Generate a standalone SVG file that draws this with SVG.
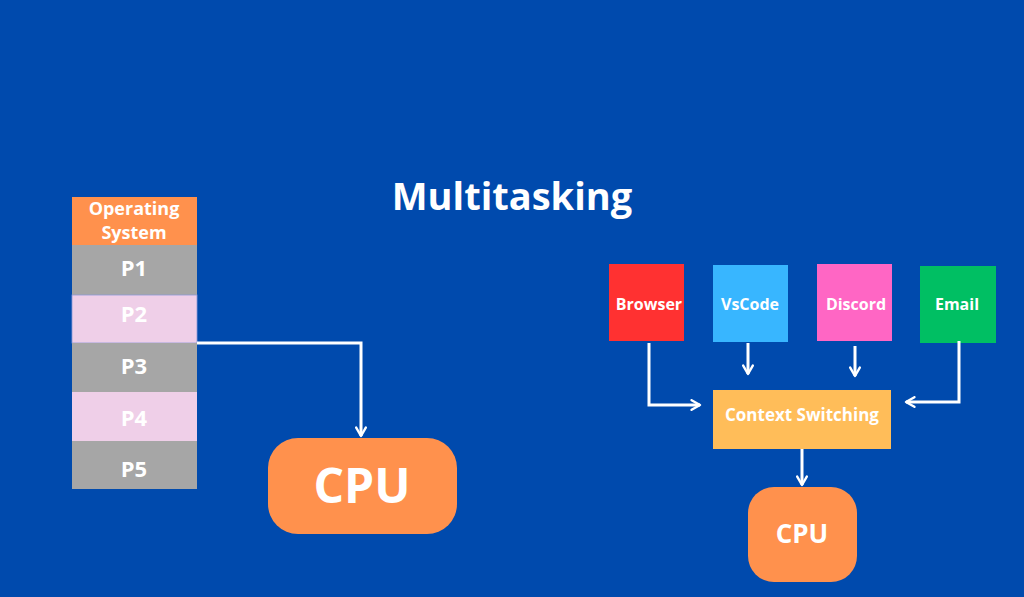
<svg xmlns="http://www.w3.org/2000/svg" width="1024" height="597" viewBox="0 0 1024 597">
<defs>
<marker id="ah" viewBox="0 0 10 10" refX="8" refY="5" markerWidth="4" markerHeight="4" markerUnits="strokeWidth" orient="auto">
<path d="M1,1 L8,5 L1,9" fill="none" stroke="#ffffff" stroke-width="2" stroke-linecap="round" stroke-linejoin="round"/>
</marker>
</defs>
<style>
text { font-family: "Open Sans", "Liberation Sans", sans-serif; font-weight: bold; fill: #ffffff; text-anchor: middle; }
.conn { fill: none; stroke: #ffffff; stroke-width: 3; marker-end: url(#ah); }
.gray { fill: #a6a6a6; }
.pink { fill: #efcfe8; }
</style>
<rect width="1024" height="597" fill="#004aad"/>
<text x="512" y="210" font-size="38">Multitasking</text>
<g id="os"><rect x="72" y="197" width="125" height="48" fill="#ff914d"/><text x="134" y="215" font-size="18">Operating</text><text x="134" y="239" font-size="18">System</text></g>
<g id="p1"><rect class="gray" x="72" y="245" width="125" height="50"/><text x="134" y="276" font-size="22">P1</text></g>
<g id="p2"><rect class="pink" x="72" y="295" width="125" height="48" stroke="#8c9ad8" stroke-width="0.8"/><text x="134" y="322" font-size="22">P2</text></g>
<g id="p3"><rect class="gray" x="72" y="343" width="125" height="49"/><text x="134" y="374" font-size="22">P3</text></g>
<g id="p4"><rect class="pink" x="72" y="392" width="125" height="49"/><text x="134" y="426" font-size="22">P4</text></g>
<g id="p5"><rect class="gray" x="72" y="441" width="125" height="48"/><text x="134" y="477" font-size="22">P5</text></g>
<g id="cpu1"><rect x="268" y="438" width="189" height="96" rx="30" fill="#ff914d"/><text x="362" y="503" font-size="48">CPU</text></g>
<g id="browser"><rect x="609" y="264" width="75" height="77" fill="#ff3131"/><text x="649" y="310" font-size="16">Browser</text></g>
<g id="vscode"><rect x="713" y="265" width="75" height="77" fill="#38b6ff"/><text x="750" y="310" font-size="16">VsCode</text></g>
<g id="discord"><rect x="817" y="264" width="75" height="77" fill="#ff66c4"/><text x="856" y="310" font-size="16">Discord</text></g>
<g id="email"><rect x="920" y="266" width="76" height="77" fill="#00bf63"/><text x="957" y="310" font-size="16">Email</text></g>
<g id="ctx"><rect x="713" y="390" width="178" height="59" fill="#ffbd59"/><text x="802" y="421" font-size="17">Context Switching</text></g>
<g id="cpu2"><rect x="748" y="487" width="109" height="95" rx="26" fill="#ff914d"/><text x="802" y="543" font-size="26">CPU</text></g>
<g id="connectors">
<path class="conn" d="M197,343 H361 V436"/>
<path class="conn" d="M649,343 V405 H700"/>
<path class="conn" d="M748,343 V374"/>
<path class="conn" d="M855,346 V376"/>
<path class="conn" d="M959,341 V402 H906"/>
<path class="conn" d="M802,449 V485"/>
</g>
</svg>
